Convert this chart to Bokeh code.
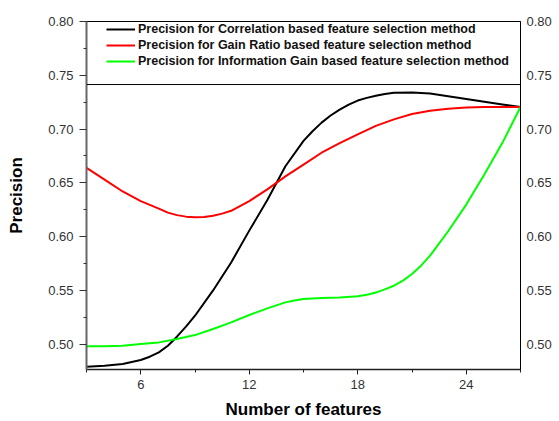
from bokeh.plotting import figure
from bokeh.models import (LinearAxis, FixedTicker, NumeralTickFormatter, Span,
                          Legend, LegendItem, Range1d)
from bokeh.embed import file_html
from bokeh.resources import INLINE

# ---- data ----
corr_x = [3, 4, 5, 6, 6.5, 7, 7.5, 8, 8.5, 9, 10, 11, 12, 13, 14, 15, 15.5, 16, 16.5,
          17, 17.5, 18, 18.5, 19, 19.5, 20, 21, 22, 23, 24, 25, 26, 27]
correlation = [0.479, 0.480, 0.4816, 0.4853, 0.4884, 0.4924, 0.4986, 0.507, 0.5163,
               0.5265, 0.550, 0.576, 0.6056, 0.634, 0.6654, 0.689, 0.698, 0.706, 0.7126,
               0.718, 0.7228, 0.7265, 0.729, 0.731, 0.7327, 0.7337, 0.734, 0.733, 0.7305,
               0.728, 0.7253, 0.7228, 0.7205]
gain_x = [3, 4, 5, 6, 7, 7.5, 8, 8.5, 9, 9.5, 10, 10.5, 11, 12, 13, 14, 15, 16, 17, 18,
          19, 20, 21, 22, 23, 24, 25, 26, 27]
gain_ratio = [0.664, 0.653, 0.642, 0.633, 0.626, 0.6223, 0.620, 0.6186, 0.618, 0.6183,
              0.6195, 0.6214, 0.624, 0.633, 0.644, 0.656, 0.667, 0.678, 0.687, 0.695,
              0.703, 0.709, 0.714, 0.717, 0.719, 0.720, 0.7205, 0.7205, 0.7205]
info_x = [3, 4, 5, 6, 7, 8, 9, 10, 11, 12, 13, 14, 14.5, 15, 15.5, 16, 17, 18, 18.5,
          19, 19.5, 20, 20.5, 21, 21.5, 22, 23, 24, 25, 26, 27]
info_gain = [0.498, 0.498, 0.4986, 0.5002, 0.5017, 0.5048, 0.5085, 0.5141, 0.5203,
             0.5272, 0.5333, 0.5389, 0.5407, 0.542, 0.5426, 0.543, 0.5435, 0.5445, 0.546,
             0.548, 0.551, 0.5544, 0.5591, 0.5653, 0.573, 0.5823, 0.605, 0.6298, 0.6577,
             0.6872, 0.7205]
labels = ["Precision for Correlation based feature selection method",
          "Precision for Gain Ratio based feature selection method",
          "Precision for Information Gain based feature selection method"]
colors = ["#000000", "#ff0000", "#00ff00"]
x_ticks = [6, 12, 18, 24]
x_minor = [3, 9, 15, 21, 27]
y_ticks = [0.50, 0.55, 0.60, 0.65, 0.70, 0.75, 0.80]
y_minor = [0.475, 0.525, 0.575, 0.625, 0.675, 0.725, 0.775]

FONT = "Liberation Sans"

p = figure(width=559, height=421, x_range=Range1d(3, 27), y_range=Range1d(0.4765, 0.8),
           output_backend="svg", toolbar_location=None,
           min_border_left=86, min_border_right=39, min_border_top=21, min_border_bottom=52,
           background_fill_color="white", border_fill_color="white")
p.xgrid.grid_line_color = None
p.ygrid.grid_line_color = None
p.outline_line_color = "black"
p.outline_line_width = 1

renderers = []
for xs, ys, c in zip([corr_x, gain_x, info_x], [correlation, gain_ratio, info_gain], colors):
    renderers.append(p.line(xs, ys, line_color=c, line_width=2, line_join="round"))

# bottom axis
xa = p.xaxis[0]
xa.ticker = FixedTicker(ticks=x_ticks, minor_ticks=x_minor)
xa.axis_label = "Number of features"
xa.axis_label_text_font = FONT
xa.axis_label_text_font_size = "17px"
xa.axis_label_text_font_style = "bold"
xa.axis_label_text_color = "black"
xa.axis_label_standoff = 8
xa.major_label_text_font = FONT
xa.major_label_text_font_size = "13px"
xa.major_label_text_color = "#333333"
xa.major_label_standoff = 5
xa.major_tick_out = 5
xa.major_tick_in = 0
xa.minor_tick_out = 3
xa.minor_tick_in = 0
xa.axis_line_color = "#222222"
xa.axis_line_width = 1.5
xa.major_tick_line_color = "#222222"
xa.minor_tick_line_color = "#222222"

# left axis
ya = p.yaxis[0]
ya.ticker = FixedTicker(ticks=y_ticks, minor_ticks=y_minor)
ya.formatter = NumeralTickFormatter(format="0.00")
ya.axis_label = "Precision"
ya.axis_label_text_font = FONT
ya.axis_label_text_font_size = "17px"
ya.axis_label_text_font_style = "bold"
ya.axis_label_text_color = "black"
ya.axis_label_standoff = 19
ya.major_label_text_font = FONT
ya.major_label_text_font_size = "13px"
ya.major_label_text_color = "#333333"
ya.major_label_standoff = 6
ya.major_tick_out = 7
ya.major_tick_in = 0
ya.minor_tick_out = 3
ya.minor_tick_in = 0
ya.axis_line_color = "#666666"
ya.axis_line_width = 2
ya.major_tick_line_color = "#333333"
ya.minor_tick_line_color = "#333333"

# right axis (labels only)
ra = LinearAxis(ticker=FixedTicker(ticks=y_ticks, minor_ticks=[]),
                formatter=NumeralTickFormatter(format="0.00"))
ra.major_label_text_font = FONT
ra.major_label_text_font_size = "13px"
ra.major_label_text_color = "#333333"
ra.major_label_standoff = 6
ra.major_tick_out = 0
ra.major_tick_in = 0
ra.minor_tick_out = 0
ra.minor_tick_in = 0
ra.axis_line_color = "black"
ra.axis_line_width = 1
p.add_layout(ra, "right")

# legend box bottom line
p.add_layout(Span(location=0.7414, dimension="width", line_color="black", line_width=1))

legend = Legend(items=[LegendItem(label=l, renderers=[r]) for l, r in zip(labels, renderers)],
                location=(20, 300), margin=0, padding=0, spacing=0,
                label_height=16, glyph_height=16, glyph_width=29, label_standoff=3,
                label_text_font=FONT, label_text_font_size="12.5px",
                label_text_font_style="bold", label_text_color="#111111",
                border_line_alpha=0, background_fill_alpha=0)
p.add_layout(legend)

open("out.html", "w").write(file_html(p, INLINE))
